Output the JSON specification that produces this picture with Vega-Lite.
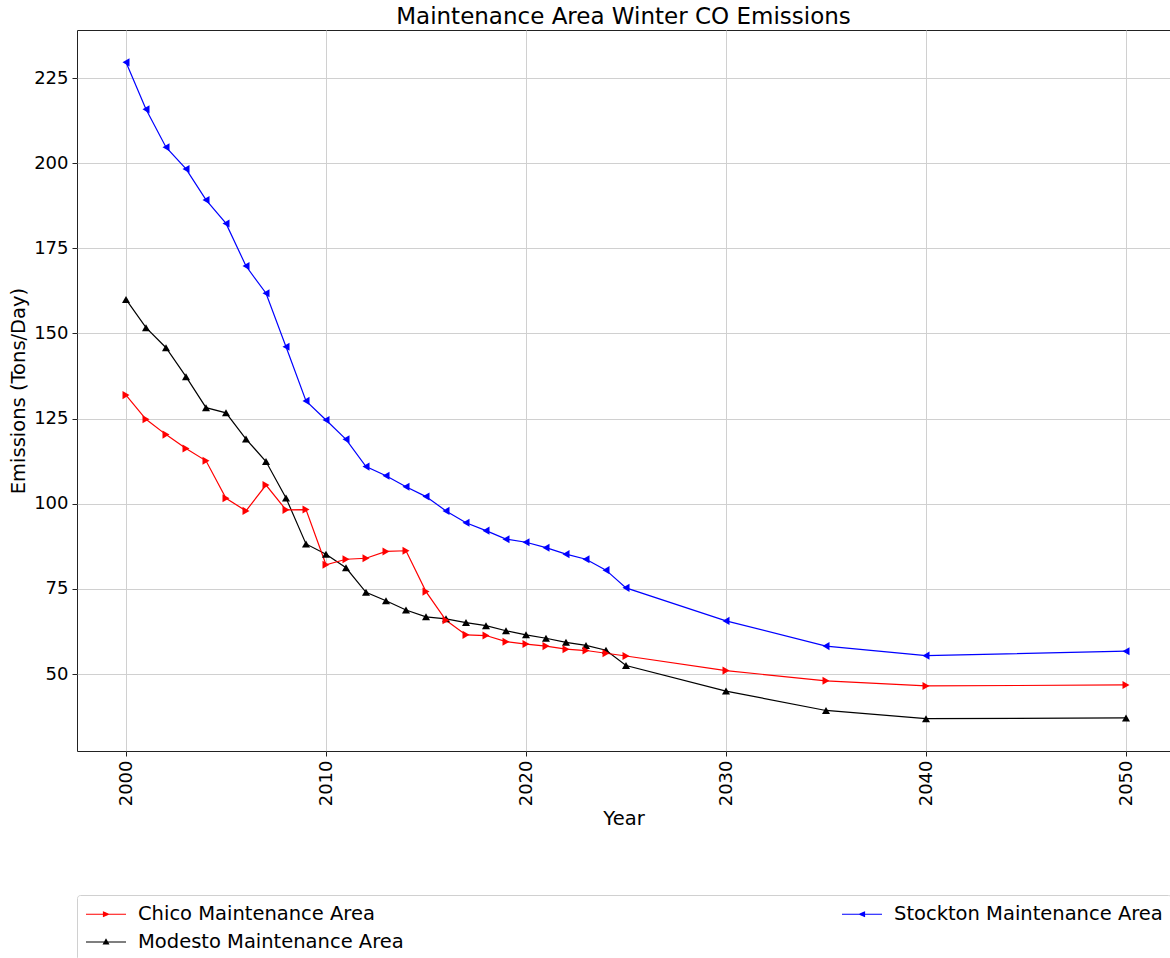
{
  "$schema": "https://vega.github.io/schema/vega-lite/v6.json",
  "autosize": {"type": "none"},
  "padding": {"left": 77, "top": 30, "right": 0, "bottom": 207},
  "width": 1093,
  "height": 721,
  "background": "white",
  "title": {"text": "Maintenance Area Winter CO Emissions", "font": "DejaVu Sans", "fontSize": 23, "fontWeight": "normal", "color": "black", "anchor": "middle", "offset": 1},
  "config": {
    "font": "DejaVu Sans",
    "view": {"stroke": "#222222", "strokeWidth": 1},
    "axis": {"labelFont": "DejaVu Sans", "titleFont": "DejaVu Sans", "labelFontSize": 18, "titleFontSize": 19.5, "titleFontWeight": "normal", "labelColor": "black", "titleColor": "black", "tickColor": "#222222", "tickSize": 5, "domain": false, "gridColor": "#d0d0d0", "gridWidth": 1}
  },
  "data": {"values": [
    {"year": 2000, "series": "Stockton Maintenance Area", "value": 229.6},
    {"year": 2001, "series": "Stockton Maintenance Area", "value": 215.8},
    {"year": 2002, "series": "Stockton Maintenance Area", "value": 204.7},
    {"year": 2003, "series": "Stockton Maintenance Area", "value": 198.3},
    {"year": 2004, "series": "Stockton Maintenance Area", "value": 189.2},
    {"year": 2005, "series": "Stockton Maintenance Area", "value": 182.3},
    {"year": 2006, "series": "Stockton Maintenance Area", "value": 169.8},
    {"year": 2007, "series": "Stockton Maintenance Area", "value": 161.8},
    {"year": 2008, "series": "Stockton Maintenance Area", "value": 146.1},
    {"year": 2009, "series": "Stockton Maintenance Area", "value": 130.2},
    {"year": 2010, "series": "Stockton Maintenance Area", "value": 124.6},
    {"year": 2011, "series": "Stockton Maintenance Area", "value": 118.9},
    {"year": 2012, "series": "Stockton Maintenance Area", "value": 110.9},
    {"year": 2013, "series": "Stockton Maintenance Area", "value": 108.2},
    {"year": 2014, "series": "Stockton Maintenance Area", "value": 105.0},
    {"year": 2015, "series": "Stockton Maintenance Area", "value": 102.1},
    {"year": 2016, "series": "Stockton Maintenance Area", "value": 97.9},
    {"year": 2017, "series": "Stockton Maintenance Area", "value": 94.4},
    {"year": 2018, "series": "Stockton Maintenance Area", "value": 92.1},
    {"year": 2019, "series": "Stockton Maintenance Area", "value": 89.6},
    {"year": 2020, "series": "Stockton Maintenance Area", "value": 88.7},
    {"year": 2021, "series": "Stockton Maintenance Area", "value": 87.1},
    {"year": 2022, "series": "Stockton Maintenance Area", "value": 85.2},
    {"year": 2023, "series": "Stockton Maintenance Area", "value": 83.7},
    {"year": 2024, "series": "Stockton Maintenance Area", "value": 80.5},
    {"year": 2025, "series": "Stockton Maintenance Area", "value": 75.3},
    {"year": 2030, "series": "Stockton Maintenance Area", "value": 65.6},
    {"year": 2035, "series": "Stockton Maintenance Area", "value": 58.2},
    {"year": 2040, "series": "Stockton Maintenance Area", "value": 55.4},
    {"year": 2050, "series": "Stockton Maintenance Area", "value": 56.7},
    {"year": 2000, "series": "Modesto Maintenance Area", "value": 160.0},
    {"year": 2001, "series": "Modesto Maintenance Area", "value": 151.7},
    {"year": 2002, "series": "Modesto Maintenance Area", "value": 145.8},
    {"year": 2003, "series": "Modesto Maintenance Area", "value": 137.3},
    {"year": 2004, "series": "Modesto Maintenance Area", "value": 128.2},
    {"year": 2005, "series": "Modesto Maintenance Area", "value": 126.7},
    {"year": 2006, "series": "Modesto Maintenance Area", "value": 119.0},
    {"year": 2007, "series": "Modesto Maintenance Area", "value": 112.4},
    {"year": 2008, "series": "Modesto Maintenance Area", "value": 101.7},
    {"year": 2009, "series": "Modesto Maintenance Area", "value": 88.2},
    {"year": 2010, "series": "Modesto Maintenance Area", "value": 85.2},
    {"year": 2011, "series": "Modesto Maintenance Area", "value": 81.2},
    {"year": 2012, "series": "Modesto Maintenance Area", "value": 74.0},
    {"year": 2013, "series": "Modesto Maintenance Area", "value": 71.5},
    {"year": 2014, "series": "Modesto Maintenance Area", "value": 68.8},
    {"year": 2015, "series": "Modesto Maintenance Area", "value": 66.8},
    {"year": 2016, "series": "Modesto Maintenance Area", "value": 66.2},
    {"year": 2017, "series": "Modesto Maintenance Area", "value": 65.1},
    {"year": 2018, "series": "Modesto Maintenance Area", "value": 64.2},
    {"year": 2019, "series": "Modesto Maintenance Area", "value": 62.7},
    {"year": 2020, "series": "Modesto Maintenance Area", "value": 61.5},
    {"year": 2021, "series": "Modesto Maintenance Area", "value": 60.5},
    {"year": 2022, "series": "Modesto Maintenance Area", "value": 59.3},
    {"year": 2023, "series": "Modesto Maintenance Area", "value": 58.4},
    {"year": 2024, "series": "Modesto Maintenance Area", "value": 57.0},
    {"year": 2025, "series": "Modesto Maintenance Area", "value": 52.5},
    {"year": 2030, "series": "Modesto Maintenance Area", "value": 45.0},
    {"year": 2035, "series": "Modesto Maintenance Area", "value": 39.3},
    {"year": 2040, "series": "Modesto Maintenance Area", "value": 36.9},
    {"year": 2050, "series": "Modesto Maintenance Area", "value": 37.1},
    {"year": 2000, "series": "Chico Maintenance Area", "value": 131.9},
    {"year": 2001, "series": "Chico Maintenance Area", "value": 124.8},
    {"year": 2002, "series": "Chico Maintenance Area", "value": 120.3},
    {"year": 2003, "series": "Chico Maintenance Area", "value": 116.2},
    {"year": 2004, "series": "Chico Maintenance Area", "value": 112.6},
    {"year": 2005, "series": "Chico Maintenance Area", "value": 101.6},
    {"year": 2006, "series": "Chico Maintenance Area", "value": 97.9},
    {"year": 2007, "series": "Chico Maintenance Area", "value": 105.5},
    {"year": 2008, "series": "Chico Maintenance Area", "value": 98.2},
    {"year": 2009, "series": "Chico Maintenance Area", "value": 98.3},
    {"year": 2010, "series": "Chico Maintenance Area", "value": 82.1},
    {"year": 2011, "series": "Chico Maintenance Area", "value": 83.7},
    {"year": 2012, "series": "Chico Maintenance Area", "value": 84.0},
    {"year": 2013, "series": "Chico Maintenance Area", "value": 86.0},
    {"year": 2014, "series": "Chico Maintenance Area", "value": 86.2},
    {"year": 2015, "series": "Chico Maintenance Area", "value": 74.2},
    {"year": 2016, "series": "Chico Maintenance Area", "value": 65.8},
    {"year": 2017, "series": "Chico Maintenance Area", "value": 61.5},
    {"year": 2018, "series": "Chico Maintenance Area", "value": 61.3},
    {"year": 2019, "series": "Chico Maintenance Area", "value": 59.5},
    {"year": 2020, "series": "Chico Maintenance Area", "value": 58.8},
    {"year": 2021, "series": "Chico Maintenance Area", "value": 58.2},
    {"year": 2022, "series": "Chico Maintenance Area", "value": 57.3},
    {"year": 2023, "series": "Chico Maintenance Area", "value": 56.9},
    {"year": 2024, "series": "Chico Maintenance Area", "value": 56.1},
    {"year": 2025, "series": "Chico Maintenance Area", "value": 55.3},
    {"year": 2030, "series": "Chico Maintenance Area", "value": 51.0},
    {"year": 2035, "series": "Chico Maintenance Area", "value": 48.0},
    {"year": 2040, "series": "Chico Maintenance Area", "value": 46.5},
    {"year": 2050, "series": "Chico Maintenance Area", "value": 46.8}
  ]},
  "encoding": {
    "x": {"field": "year", "type": "quantitative", "title": "Year",
      "scale": {"domain": [1997.55, 2052.2], "nice": false, "zero": false},
      "axis": {"values": [2000, 2010, 2020, 2030, 2040, 2050], "format": "d", "labelAngle": -90, "labelPadding": 4, "titlePadding": 4, "grid": true}},
    "y": {"field": "value", "type": "quantitative", "title": "Emissions (Tons/Day)",
      "scale": {"domain": [27.4, 239.1], "nice": false, "zero": false},
      "axis": {"values": [50, 75, 100, 125, 150, 175, 200, 225], "labelPadding": 4, "titlePadding": 5, "grid": true}},
    "color": {"field": "series", "type": "nominal",
      "scale": {"domain": ["Chico Maintenance Area", "Stockton Maintenance Area", "Modesto Maintenance Area"], "range": ["#ff0000", "#0000ff", "#000000"]},
      "legend": {"title": null, "orient": "none", "legendX": 0, "legendY": 865, "direction": "horizontal", "columns": 2,
        "labelFontSize": 19.5, "labelFont": "DejaVu Sans", "labelColor": "black", "labelOffset": 31, "labelLimit": 0,
        "symbolSize": 400, "symbolStrokeWidth": 1.2, "rowPadding": 7, "columnPadding": 435,
        "padding": 8, "strokeColor": "#d0d0d0", "cornerRadius": 3, "fillColor": "white",
        "encode": {"symbols": {"update": {
          "shape": {"signal": "datum.value === 'Chico Maintenance Area' ? 'M-1,0H3M0.75,-0.22L1.25,0L0.75,0.22Z' : datum.value === 'Modesto Maintenance Area' ? 'M-1,0H3M0.75,0.2L1,-0.25L1.25,0.2Z' : 'M-1,0H3M1.25,-0.22L0.75,0L1.25,0.22Z'"},
          "fill": {"signal": "datum.value === 'Chico Maintenance Area' ? '#ff0000' : datum.value === 'Modesto Maintenance Area' ? '#000000' : '#0000ff'"},
          "stroke": {"signal": "datum.value === 'Chico Maintenance Area' ? '#ff0000' : datum.value === 'Modesto Maintenance Area' ? '#000000' : '#0000ff'"},
          "opacity": {"value": 1}
        }}}}}
  },
  "layer": [
    {"mark": {"type": "line", "strokeWidth": 1.2}},
    {"mark": {"type": "point", "filled": true, "size": 65, "opacity": 1},
     "encoding": {"shape": {"field": "series", "type": "nominal", "legend": null,
       "scale": {"domain": ["Chico Maintenance Area", "Modesto Maintenance Area", "Stockton Maintenance Area"], "range": ["triangle-right", "triangle-up", "triangle-left"]}}}}
  ]
}
